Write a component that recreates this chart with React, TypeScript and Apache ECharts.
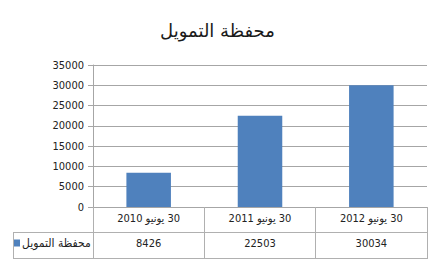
import React, { useEffect, useRef } from "react";
import * as echarts from "echarts";

const title = "محفظة التمويل";
const seriesName = "محفظة التمويل";
const categories = ["30 يونيو 2010", "30 يونيو 2011", "30 يونيو 2012"];
const values = [8426, 22503, 30034];
const yTicks = { min: 0, max: 35000, interval: 5000 };

const FONT = "'Liberation Sans Narrow', 'DejaVu Sans Condensed', 'DejaVu Sans', sans-serif";
const LINE = "#b0b0b0";

export default function App() {
  const ref = useRef<HTMLDivElement>(null);
  useEffect(() => {
    if (!ref.current) return;
    const chart = echarts.init(ref.current, undefined, { renderer: "svg" });
    chart.setOption({
      animation: false,
      backgroundColor: "#ffffff",
      title: {
        text: title,
        left: "center",
        top: 16,
        textStyle: { fontFamily: "'DejaVu Sans', sans-serif", fontSize: 18, fontWeight: "normal", color: "#1a1a1a" },
      },
      legend: {
        data: [seriesName],
        left: 14,
        top: 237,
        padding: 0,
        icon: "rect",
        itemWidth: 6,
        itemHeight: 7,
        textStyle: { fontFamily: FONT, fontSize: 12, color: "#222", padding: [0, 0, 0, -3] },
      },
      grid: { left: 93, right: 8, top: 65, bottom: 58 },
      xAxis: {
        type: "category",
        data: categories,
        axisLine: { show: true, lineStyle: { color: "#a6a6a6" } },
        axisTick: { show: true, alignWithLabel: false, length: 52, lineStyle: { color: LINE } },
        axisLabel: {
          margin: 0,
          interval: 0,
          formatter: (v: string, i: number) => `{c|\u202B${v}\u202C}\n{v|${values[i]}}`,
          rich: {
            c: { fontFamily: FONT, fontSize: 11, color: "#222", lineHeight: 22 },
            v: { fontFamily: FONT, fontSize: 11, color: "#222", lineHeight: 28 },
          },
        },
      },
      yAxis: {
        type: "value",
        min: yTicks.min,
        max: yTicks.max,
        interval: yTicks.interval,
        axisLine: { show: true, lineStyle: { color: "#a6a6a6" } },
        axisTick: { show: true, length: 5, lineStyle: { color: "#a6a6a6" } },
        axisLabel: { fontFamily: FONT, fontSize: 11, color: "#222", margin: 9, formatter: (v: number) => String(v) },
        splitLine: { show: true, lineStyle: { color: "#a6a6a6" } },
      },
      series: [
        {
          name: seriesName,
          type: "bar",
          data: values,
          barWidth: "40%",
          itemStyle: { color: "#4f81bd" },
        },
      ],
      graphic: [
        { type: "line", shape: { x1: 13, y1: 232.5, x2: 427, y2: 232.5 }, style: { stroke: LINE, lineWidth: 1 } },
        { type: "line", shape: { x1: 13, y1: 258.5, x2: 427, y2: 258.5 }, style: { stroke: LINE, lineWidth: 1 } },
        { type: "line", shape: { x1: 13.5, y1: 232, x2: 13.5, y2: 259 }, style: { stroke: LINE, lineWidth: 1 } },
      ],
    });
    return () => chart.dispose();
  }, []);
  return <div ref={ref} style={{ width: 435, height: 265, position: "absolute", left: 0, top: 0 }} />;
}
